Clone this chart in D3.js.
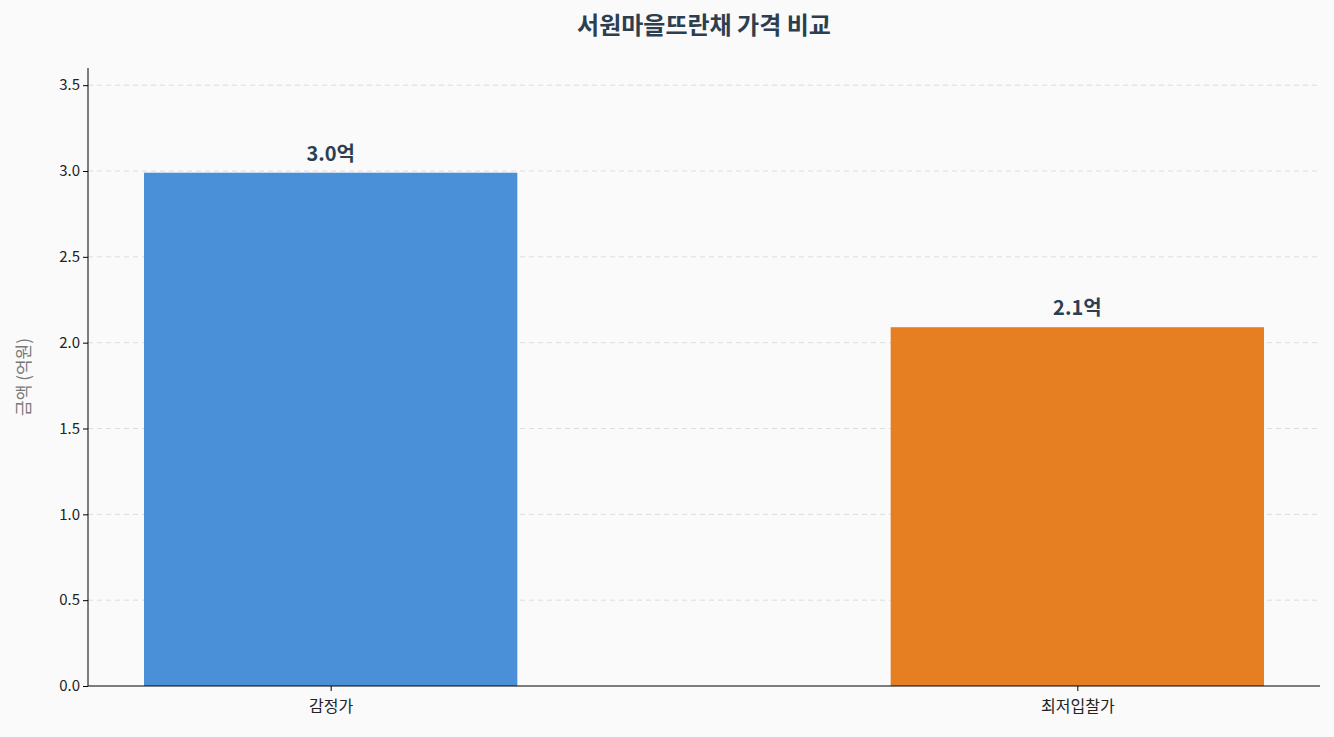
<!DOCTYPE html>
<html><head><meta charset="utf-8">
<script src="https://cdn.jsdelivr.net/npm/d3@7"></script>
<style>body{margin:0;background:#fafafa;font-family:"Noto Sans CJK KR","Noto Sans",sans-serif;}</style>
</head><body><svg id="c" width="1334" height="737"></svg>
<script>
const categories = ["감정가", "최저입찰가"];
const values = [2.99, 2.09];
const labels = ["3.0억", "2.1억"];
const colors = ["#4a90d9", "#e67e22"];
const yTicks = [0, 0.5, 1.0, 1.5, 2.0, 2.5, 3.0, 3.5];

const svg = d3.select("#c");
svg.append("rect").attr("width",1334).attr("height",737).attr("fill","#fafafa");
const L=88, R=1320, T=68, B=686;
const x = d3.scaleLinear().domain([-0.325, 1.325]).range([L, R]);
const y = d3.scaleLinear().domain([0, 3.6]).range([B, T]);
const bw = x(0.5) - x(0);

svg.append("g").selectAll("line").data(yTicks.slice(1)).join("line")
  .attr("x1",L).attr("x2",R).attr("y1",d=>y(d)).attr("y2",d=>y(d))
  .attr("stroke","#dddddd").attr("stroke-dasharray","5,4").attr("stroke-width",1);

svg.append("g").selectAll("rect").data(values).join("rect")
  .attr("x",(d,i)=>x(i)-bw/2).attr("width",bw)
  .attr("y",d=>y(d)).attr("height",d=>B-y(d)).attr("fill",(d,i)=>colors[i]);

svg.append("g").selectAll("text").data(values).join("text")
  .attr("x",(d,i)=>x(i)).attr("y",d=>y(d)-12).attr("text-anchor","middle")
  .attr("font-size",20).attr("font-weight","bold").attr("fill","#2c3e50")
  .text((d,i)=>labels[i]);

const ya = svg.append("g").attr("transform",`translate(${L},0)`)
  .call(d3.axisLeft(y).tickValues(yTicks).tickFormat(d3.format(".1f")).tickSize(5));
ya.select(".domain").attr("d",`M0,${T}V${B}`);
const xa = svg.append("g").attr("transform",`translate(0,${B})`)
  .call(d3.axisBottom(x).tickValues([0,1]).tickFormat(i=>categories[i]).tickSize(5));
xa.select(".domain").attr("d",`M${L},0H${R}`);
svg.selectAll(".tick text").attr("font-size",15).attr("fill","#222").attr("font-family","Noto Sans CJK KR");
xa.selectAll(".tick text").attr("dy","1.1em").attr("font-size",16);

svg.append("text").attr("transform",`translate(30,${(T+B)/2}) rotate(-90)`)
  .attr("text-anchor","middle").attr("font-size",17).attr("fill","#777").text("금액 (억원)");
svg.append("text").attr("x",704).attr("y",34).attr("text-anchor","middle")
  .attr("font-size",24).attr("font-weight","bold").attr("fill","#2c3e50").text("서원마을뜨란채 가격 비교");
</script></body></html>
